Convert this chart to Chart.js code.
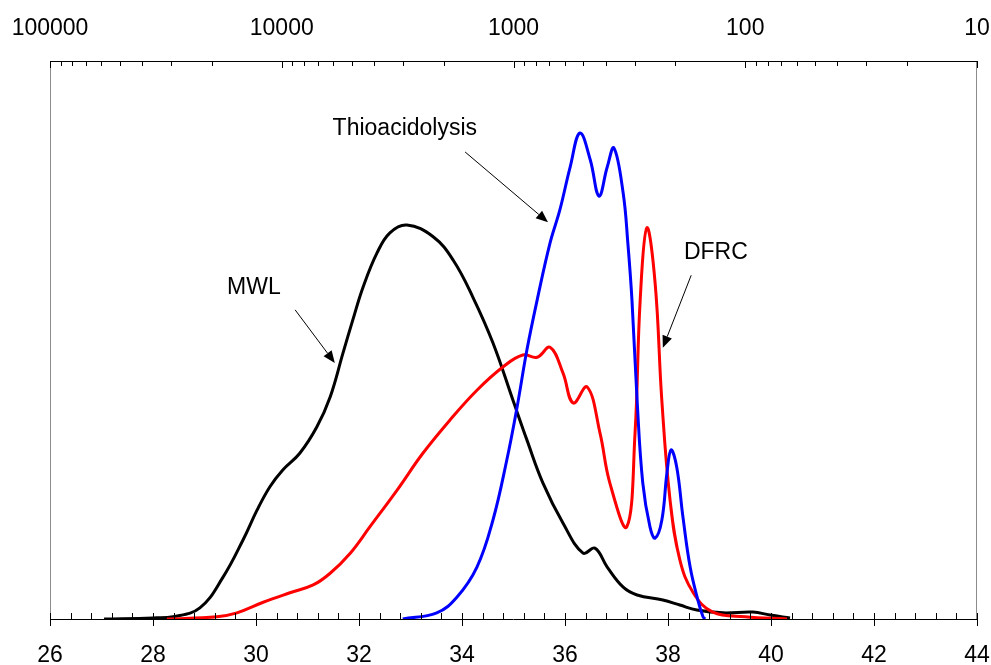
<!DOCTYPE html>
<html>
<head>
<meta charset="utf-8">
<script src="https://cdn.jsdelivr.net/npm/chart.js@4"></script>
<style>
  body { margin: 0; background: #fff; }
  #wrap { width: 991px; height: 665px; }
</style>
</head>
<body>
<div id="wrap"><canvas id="gpcChart" width="991" height="665"></canvas></div>
<script>
// elution volume (bottom axis) vs relative response
const mwlX = [27.05, 28.0, 28.39, 28.91, 29.36, 29.75, 30.02, 30.27, 30.52, 30.85, 31.18, 31.44, 31.69, 31.88, 32.08, 32.35, 32.60, 32.93, 33.44, 33.83, 34.21, 34.60, 34.99, 35.26, 35.57, 35.96, 36.35, 36.58, 36.82, 37.13, 37.40, 37.90, 38.23, 38.56, 39.07, 39.65, 39.98, 40.37];
const mwlY = [0, 0.2, 0.4, 2.0, 7.5, 14.2, 19.5, 23.7, 26.7, 29.7, 34.4, 39.8, 47.7, 53.6, 59.5, 65.6, 69.2, 70.6, 68.5, 64.3, 57.7, 49.5, 39.2, 32.1, 24.4, 17.2, 11.8, 12.7, 9.3, 5.7, 4.3, 3.4, 2.5, 1.6, 1.1, 1.25, 0.7, 0.2];

const dfrcX = [28.27, 29.24, 29.63, 30.14, 30.66, 31.11, 31.44, 31.83, 32.21, 32.74, 33.24, 33.77, 34.29, 34.80, 35.18, 35.46, 35.71, 35.96, 36.16, 36.43, 36.68, 36.87, 37.20, 37.36, 37.46, 37.59, 37.75, 37.88, 38.04, 38.23, 38.49, 38.87, 39.5, 40.31];
const dfrcY = [0, 0.4, 1.1, 3.0, 4.7, 6.1, 8.2, 11.8, 16.5, 23.1, 29.7, 35.7, 41.0, 45.2, 47.3, 46.9, 48.7, 44.1, 38.7, 41.6, 33.3, 24.4, 16.5, 33.3, 57.2, 70.1, 60.2, 39.2, 21.3, 10.6, 4.7, 1.25, 0.4, 0];

const thioX = [32.85, 33.51, 33.90, 34.29, 34.60, 34.87, 35.07, 35.26, 35.46, 35.71, 35.90, 36.10, 36.29, 36.49, 36.66, 36.82, 36.95, 37.13, 37.22, 37.30, 37.40, 37.51, 37.65, 37.75, 37.88, 37.98, 38.06, 38.17, 38.29, 38.43, 38.58, 38.68, 38.72];
const thioY = [0, 1.1, 3.9, 9.3, 17.7, 28.5, 38.0, 48.2, 57.2, 67.4, 73.3, 81.0, 87.1, 82.3, 75.8, 81.0, 84.4, 76.3, 67.4, 57.2, 39.2, 24.4, 16.5, 14.5, 17.7, 26.2, 30.3, 27.2, 18.3, 9.3, 3.4, 0.4, 0];

const bottomTicks = [26, 28, 30, 32, 34, 36, 38, 40, 42, 44];
const topTicks = [100000, 10000, 1000, 100, 10];   // molecular weight, log scale

// labels with arrows, in data units
const notes = [
  { text: 'Thioacidolysis', x: 32.89, y: 87.8, from: [34.06, 83.7], to: [35.67, 71.1] },
  { text: 'DFRC', x: 38.93, y: 65.6, from: [38.45, 61.6], to: [37.90, 48.6] },
  { text: 'MWL', x: 29.96, y: 59.3, from: [30.76, 55.4], to: [31.53, 45.9] }
];

const FONT = 'Arial, "Liberation Sans", sans-serif';

function toPoints(xs, ys) {
  return xs.map((x, i) => ({ x: x, y: ys[i] }));
}

function isDecade(v) {
  const l = Math.log10(v);
  return Math.abs(l - Math.round(l)) < 1e-9;
}

// axis frame + inward tick marks
const axisDecor = {
  id: 'axisDecor',
  afterDraw(chart) {
    const { ctx, chartArea: a, scales } = chart;
    ctx.save();
    ctx.lineWidth = 1;

    ctx.strokeStyle = '#8c8c8c';
    ctx.beginPath();
    ctx.moveTo(a.left + 0.5, a.top); ctx.lineTo(a.left + 0.5, a.bottom);
    ctx.moveTo(a.right - 0.5, a.top); ctx.lineTo(a.right - 0.5, a.bottom);
    ctx.stroke();

    ctx.strokeStyle = '#000';
    ctx.beginPath();
    ctx.moveTo(a.left, a.top + 0.5); ctx.lineTo(a.right, a.top + 0.5);
    ctx.moveTo(a.left, a.bottom + 0.5); ctx.lineTo(a.right, a.bottom + 0.5);

    // bottom: minor every 0.4, major every 2
    const xs = scales.x;
    for (let i = 0; i <= 45; i++) {
      const v = 26 + i * 0.4;
      const px = Math.round(xs.getPixelForValue(v)) + 0.5;
      const major = i % 5 === 0;
      ctx.moveTo(px, a.bottom - 6);
      ctx.lineTo(px, a.bottom + (major ? 7 : 0));
    }

    // top: log ticks pointing down into the plot
    const xt = scales.x2;
    xt.ticks.forEach(t => {
      const px = Math.round(xt.getPixelForValue(t.value)) + 0.5;
      ctx.moveTo(px, a.top);
      ctx.lineTo(px, a.top + (isDecade(t.value) ? 7 : 5));
    });
    ctx.stroke();
    ctx.restore();
  }
};

const annotations = {
  id: 'annotations',
  afterDatasetsDraw(chart) {
    const { ctx, scales } = chart;
    const sx = scales.x, sy = scales.y;
    ctx.save();
    ctx.fillStyle = '#000';
    ctx.strokeStyle = '#000';
    ctx.font = '23px ' + FONT;
    ctx.textAlign = 'center';
    ctx.textBaseline = 'middle';
    notes.forEach(n => {
      ctx.fillText(n.text, sx.getPixelForValue(n.x), sy.getPixelForValue(n.y));

      const x1 = sx.getPixelForValue(n.from[0]), y1 = sy.getPixelForValue(n.from[1]);
      const x2 = sx.getPixelForValue(n.to[0]), y2 = sy.getPixelForValue(n.to[1]);
      const ang = Math.atan2(y2 - y1, x2 - x1);
      const len = 12, half = 5;
      const bx = x2 - len * Math.cos(ang), by = y2 - len * Math.sin(ang);
      ctx.lineWidth = 1;
      ctx.beginPath();
      ctx.moveTo(x1, y1);
      ctx.lineTo(bx, by);
      ctx.stroke();
      ctx.beginPath();
      ctx.moveTo(x2, y2);
      ctx.lineTo(bx + half * Math.sin(ang), by - half * Math.cos(ang));
      ctx.lineTo(bx - half * Math.sin(ang), by + half * Math.cos(ang));
      ctx.closePath();
      ctx.fill();
    });
    ctx.restore();
  }
};

const lineStyle = {
  showLine: true,
  pointRadius: 0,
  borderWidth: 3,
  fill: false,
  tension: 0.4
};

new Chart(document.getElementById('gpcChart'), {
  type: 'scatter',
  data: {
    datasets: [
      Object.assign({ label: 'Thioacidolysis', data: toPoints(thioX, thioY), borderColor: '#0000ff' }, lineStyle),
      Object.assign({ label: 'DFRC', data: toPoints(dfrcX, dfrcY), borderColor: '#ff0000' }, lineStyle),
      Object.assign({ label: 'MWL', data: toPoints(mwlX, mwlY), borderColor: '#000000' }, lineStyle)
    ]
  },
  options: {
    responsive: false,
    animation: false,
    layout: { padding: { top: 0, right: 14, bottom: 0, left: 0 } },
    plugins: {
      legend: { display: false },
      tooltip: { enabled: false }
    },
    scales: {
      x: {
        type: 'linear',
        position: 'bottom',
        min: 26,
        max: 44,
        afterBuildTicks: s => { s.ticks = bottomTicks.map(v => ({ value: v })); },
        afterFit: s => { s.height = 46; s.paddingLeft = 0; s.paddingRight = 0; },
        grid: { display: false, drawTicks: false },
        border: { display: false },
        ticks: {
          padding: 23,
          color: '#000',
          maxRotation: 0,
          autoSkip: false,
          font: { family: FONT, size: 23 }
        }
      },
      x2: {
        type: 'logarithmic',
        position: 'top',
        reverse: true,
        min: 10,
        max: 100000,
        afterBuildTicks: s => {
          const t = [];
          topTicks.forEach(d => {
            t.push({ value: d });
            if (d < 100000) for (let k = 2; k <= 9; k++) t.push({ value: d * k });
          });
          s.ticks = t.sort((a, b) => a.value - b.value);
        },
        afterFit: s => { s.height = 61; s.paddingLeft = 0; s.paddingRight = 0; },
        grid: { display: false, drawTicks: false },
        border: { display: false },
        ticks: {
          padding: 19,
          color: '#000',
          maxRotation: 0,
          autoSkip: false,
          font: { family: FONT, size: 23 },
          callback: v => (isDecade(v) ? String(v) : '')
        }
      },
      y: {
        type: 'linear',
        min: 0,
        max: 100,
        afterFit: s => { s.width = 50; },
        grid: { display: false, drawTicks: false },
        border: { display: false },
        ticks: { display: false }
      }
    }
  },
  plugins: [axisDecor, annotations]
});
</script>
</body>
</html>
